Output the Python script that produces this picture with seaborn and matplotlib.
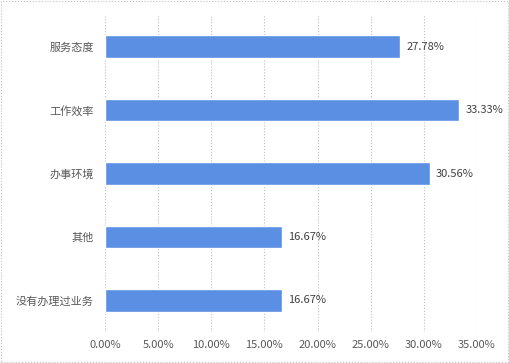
import matplotlib
matplotlib.use("Agg")
import matplotlib.pyplot as plt
import seaborn as sns
import pandas as pd
from matplotlib.ticker import FuncFormatter
from matplotlib.patches import Rectangle

# data
categories = ["服务态度", "工作效率", "办事环境", "其他", "没有办理过业务"]
shares = [0.2778, 0.3333, 0.3056, 0.1667, 0.1667]

df = pd.DataFrame({"category": categories, "share": shares})

sns.set_style("white")
plt.rcParams["font.family"] = ["Noto Sans CJK SC", "DejaVu Sans"]

fig = plt.figure(figsize=(5.1, 3.63), dpi=100)
ax = fig.add_axes([0.206, 0.085, 0.729, 0.874])

sns.barplot(data=df, x="share", y="category", color="#5B8FE3",
            width=0.36, saturation=1, ax=ax)

for p, v in zip(ax.patches, shares):
    ax.text(p.get_width() + 0.006, p.get_y() + p.get_height() / 2,
            f"{v * 100:.2f}%", va="center", ha="left",
            fontsize=8, color="#404040")

ax.set_xlim(0, 0.35)
ax.set_xticks([0, 0.05, 0.10, 0.15, 0.20, 0.25, 0.30, 0.35])
ax.xaxis.set_major_formatter(FuncFormatter(lambda x, _: f"{x * 100:.2f}%"))
ax.grid(axis="x", linestyle=":", color="#BFBFBF", linewidth=0.8)
ax.set_axisbelow(True)
for s in ax.spines.values():
    s.set_visible(False)
ax.set_xlabel("")
ax.set_ylabel("")
ax.tick_params(axis="both", length=0, labelsize=8, labelcolor="#595959")
ax.tick_params(axis="x", pad=6)
ax.tick_params(axis="y", pad=8)

fig.patches.append(Rectangle((0.002, 0.003), 0.995, 0.994, transform=fig.transFigure,
                             fill=False, edgecolor="#BFBFBF", linestyle=":", linewidth=0.8))

fig.savefig("out.png", dpi=100)
